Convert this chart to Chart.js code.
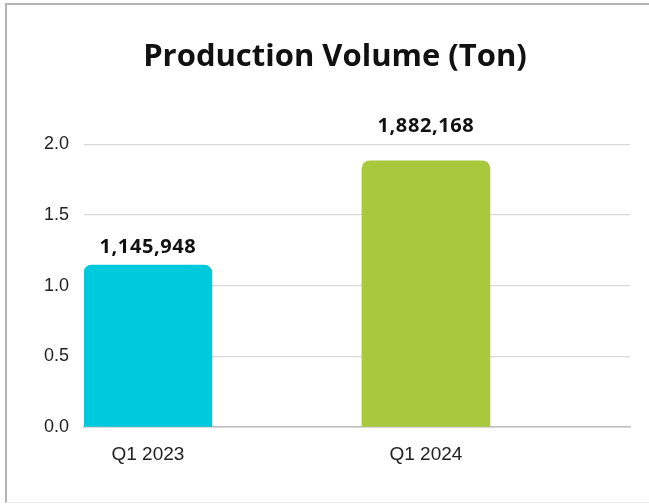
<!DOCTYPE html>
<html>
<head>
<meta charset="utf-8">
<script src="https://cdn.jsdelivr.net/npm/chart.js@4.4.1/dist/chart.umd.min.js"></script>
<style>
    html, body { margin: 0; padding: 0; background: #fff; }
    #wrap { position: relative; width: 649px; height: 504px; overflow: hidden; }
    #frame {
        position: absolute; left: 5px; top: 3px; right: 0; bottom: 1px;
        border-top: 2px solid #b4b4b4; border-left: 2px solid #b4b4b4;
        border-bottom: 1px solid #ececec;
    }
    canvas { position: absolute; left: 0; top: 0; }
</style>
</head>
<body>
<div id="wrap">
    <div id="frame"></div>
    <canvas id="volumeChart" width="649" height="504"></canvas>
</div>
<script>
// Chart data
const categories = ['Q1 2023', 'Q1 2024'];
const volumeMillions = [1.145948, 1.882168];
const volumeLabels = ['1,145,948', '1,882,168'];
const barColors = ['#00c9db', '#a9c93d'];
const yTicks = [0, 0.5, 1.0, 1.5, 2.0];

// Value labels above each bar (offset in px per bar, as in the original)
const labelOffsets = [18, 35];
const valueLabelPlugin = {
    id: 'valueLabels',
    afterDatasetsDraw(chart) {
        const ctx = chart.ctx;
        const meta = chart.getDatasetMeta(0);
        ctx.save();
        ctx.font = 'bold 20px "Open Sans"';
        ctx.letterSpacing = '0.6px';
        ctx.fillStyle = '#111';
        ctx.textAlign = 'center';
        ctx.textBaseline = 'middle';
        meta.data.forEach((bar, i) => {
            ctx.fillText(volumeLabels[i], bar.x, bar.y - labelOffsets[i]);
        });
        ctx.restore();
    }
};

function renderChart() {
    const ctx = document.getElementById('volumeChart').getContext('2d');

    new Chart(ctx, {
        type: 'bar',
        data: {
            datasets: [{
                data: volumeMillions.map((v, i) => ({ x: i, y: v })),
                backgroundColor: barColors,
                borderRadius: { topLeft: 8, topRight: 8 },
                borderSkipped: 'start',
                barThickness: 128
            }]
        },
        options: {
            responsive: false,
            animation: false,
            layout: { padding: { left: 40, right: 19, top: 0, bottom: 0 } },
            plugins: {
                legend: { display: false },
                tooltip: { enabled: false },
                title: {
                    display: true,
                    text: 'Production Volume (Ton)',
                    color: '#111',
                    font: { family: 'Open Sans', size: 31, weight: 'bold', lineHeight: 1.2 },
                    padding: { top: 39, bottom: 68 }
                }
            },
            scales: {
                x: {
                    type: 'linear',
                    offset: false,
                    min: -0.23,
                    max: 1.734,
                    grid: { display: false },
                    border: { color: '#bdbdbd', width: 1.5 },
                    afterBuildTicks: axis => { axis.ticks = categories.map((c, i) => ({ value: i })); },
                    afterFit: axis => { axis.height = 77; },
                    ticks: {
                        padding: 8,
                        color: '#222',
                        font: { family: 'Liberation Sans', size: 19 },
                        callback: v => categories[v]
                    }
                },
                y: {
                    min: 0,
                    max: 2.0,
                    afterBuildTicks: axis => { axis.ticks = yTicks.map(v => ({ value: v })); },
                    afterFit: axis => { axis.width = 44; },
                    grid: { color: '#d9d9d9', lineWidth: 1.2, drawTicks: false },
                    border: { display: false },
                    ticks: {
                        padding: 15,
                        color: '#222',
                        font: { family: 'Liberation Sans', size: 18 },
                        callback: v => v.toFixed(1)
                    }
                }
            }
        },
        plugins: [valueLabelPlugin]
    });
}

document.addEventListener('DOMContentLoaded', renderChart);
</script>
</body>
</html>
